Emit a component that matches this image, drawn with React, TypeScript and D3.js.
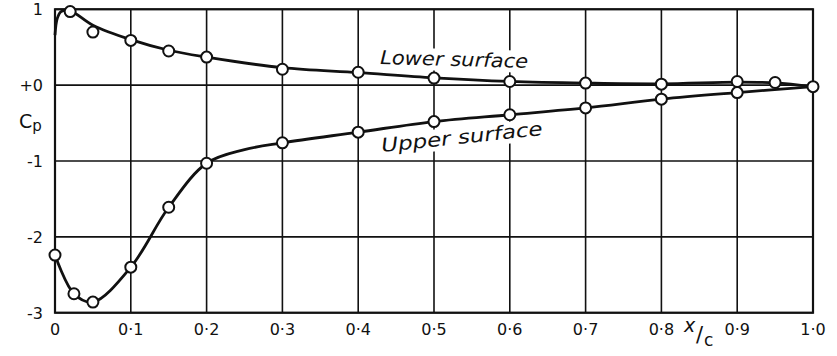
import React, { useRef, useEffect } from 'react'
import * as d3 from 'd3'

// axis ticks
const xTicks = [0, 0.1, 0.2, 0.3, 0.4, 0.5, 0.6, 0.7, 0.8, 0.9, 1.0]
const xTickLabels = ['0', '0·1', '0·2', '0·3', '0·4', '0·5', '0·6', '0·7', '0·8', '0·9', '1·0']
const yTicks = [1, 0, -1, -2, -3]
const yTickLabels = ['1', '+0', '-1', '-2', '-3']

// measured points (circles)
const lowerX = [0.02, 0.05, 0.1, 0.15, 0.2, 0.3, 0.4, 0.5, 0.6, 0.7, 0.8, 0.9, 0.95, 1.0]
const lowerCp = [0.97, 0.7, 0.59, 0.45, 0.37, 0.21, 0.17, 0.093, 0.048, 0.027, 0.013, 0.048, 0.035, -0.02]
const upperX = [0, 0.025, 0.05, 0.1, 0.15, 0.2, 0.3, 0.4, 0.5, 0.6, 0.7, 0.8, 0.9]
const upperCp = [-2.24, -2.75, -2.86, -2.4, -1.61, -1.03, -0.76, -0.62, -0.48, -0.39, -0.3, -0.185, -0.098]

// faired curves as drawn through the points
const lowerCurveX = [0, 0.003, 0.008, 0.02, 0.05, 0.1, 0.15, 0.2, 0.3, 0.4, 0.5, 0.6, 0.7, 0.8, 0.9, 0.95, 1.0]
const lowerCurveCp = [0.66, 0.88, 0.97, 0.98, 0.79, 0.6, 0.46, 0.37, 0.23, 0.165, 0.097, 0.05, 0.027, 0.017, 0.04, 0.03, -0.02]
const upperCurveX = [0, 0.025, 0.05, 0.1, 0.15, 0.2, 0.25, 0.3, 0.4, 0.5, 0.6, 0.7, 0.8, 0.9, 1.0]
const upperCurveCp = [-2.24, -2.75, -2.86, -2.4, -1.61, -1.03, -0.85, -0.76, -0.62, -0.48, -0.39, -0.3, -0.185, -0.098, -0.02]

const ink = '#111'
const font = '"DejaVu Sans", sans-serif'

export default function App() {
  const ref = useRef<HTMLDivElement>(null)

  useEffect(() => {
    const el = ref.current
    if (!el) return
    const width = 837
    const height = 356

    const svg = d3.select(el).html('').append('svg')
      .attr('width', width).attr('height', height)
      .style('display', 'block').style('background', '#fff')

    const x = d3.scaleLinear().domain([0, 1]).range([55, 813])
    const y = d3.scaleLinear().domain([-3, 1]).range([312.7, 9.3])

    // grid
    const grid = svg.append('g').attr('stroke', ink).attr('stroke-width', 1.6)
    grid.selectAll('line.v').data(xTicks).join('line')
      .attr('x1', d => x(d)).attr('x2', d => x(d))
      .attr('y1', y(1)).attr('y2', y(-3))
    grid.selectAll('line.h').data(yTicks).join('line')
      .attr('class', 'h')
      .attr('x1', x(0)).attr('x2', x(1))
      .attr('y1', d => y(d)).attr('y2', d => y(d))
    svg.append('rect')
      .attr('x', x(0)).attr('y', y(1))
      .attr('width', x(1) - x(0)).attr('height', y(-3) - y(1))
      .attr('fill', 'none').attr('stroke', ink).attr('stroke-width', 2.2)

    // tick labels
    svg.append('g').selectAll('text').data(xTicks).join('text')
      .attr('x', d => x(d)).attr('y', 335)
      .attr('text-anchor', 'middle')
      .attr('font-family', font).attr('font-size', 16).attr('fill', ink)
      .text((d, i) => xTickLabels[i])
    svg.append('g').selectAll('text').data(yTicks).join('text')
      .attr('x', 43).attr('y', d => y(d) + 6)
      .attr('text-anchor', 'end')
      .attr('font-family', font).attr('font-size', 16).attr('fill', ink)
      .text((d, i) => yTickLabels[i])

    // axis titles
    const cp = svg.append('text').attr('x', 19).attr('y', 128)
      .attr('font-family', font).attr('font-size', 19).attr('fill', ink)
    cp.append('tspan').text('C')
    cp.append('tspan').attr('font-size', 15).attr('dy', 3).text('p')

    svg.append('text').attr('x', 684).attr('y', 332)
      .attr('font-family', font).attr('font-size', 19).attr('font-style', 'italic').attr('fill', ink)
      .text('x')
    svg.append('text').attr('x', 696).attr('y', 342)
      .attr('font-family', font).attr('font-size', 21).attr('fill', ink)
      .text('/')
    svg.append('text').attr('x', 704).attr('y', 346)
      .attr('font-family', font).attr('font-size', 17).attr('fill', ink)
      .text('c')

    // curve labels, with paper showing through the grid behind them
    const labels = [
      { text: 'Lower surface', x: 380, y: 64, len: 148, rot: 1.5 },
      { text: 'Upper surface', x: 382, y: 152, len: 162, rot: -6 },
    ]
    labels.forEach(l => {
      const g = svg.append('g').attr('transform', `translate(${l.x},${l.y}) rotate(${l.rot})`)
      g.append('rect').attr('x', -3).attr('y', -17).attr('width', l.len + 6).attr('height', 22).attr('fill', '#fff')
      g.append('text')
        .attr('font-family', font).attr('font-size', 19).attr('font-style', 'italic').attr('fill', ink)
        .attr('textLength', l.len).attr('lengthAdjust', 'spacingAndGlyphs')
        .text(l.text)
    })

    // faired curves
    const line = d3.line<number>().curve(d3.curveCatmullRom.alpha(0.5))
    svg.append('path')
      .attr('d', line.x(d => x(lowerCurveX[d])).y(d => y(lowerCurveCp[d]))(d3.range(lowerCurveX.length)))
      .attr('fill', 'none').attr('stroke', ink).attr('stroke-width', 2.8)
    svg.append('path')
      .attr('d', line.x(d => x(upperCurveX[d])).y(d => y(upperCurveCp[d]))(d3.range(upperCurveX.length)))
      .attr('fill', 'none').attr('stroke', ink).attr('stroke-width', 2.8)

    // measured points
    const pts = [
      ...lowerX.map((v, i) => [v, lowerCp[i]]),
      ...upperX.map((v, i) => [v, upperCp[i]]),
    ]
    svg.append('g').selectAll('circle').data(pts).join('circle')
      .attr('cx', d => x(d[0])).attr('cy', d => y(d[1])).attr('r', 5.5)
      .attr('fill', '#fff').attr('stroke', ink).attr('stroke-width', 2)
  }, [])

  return <div ref={ref} style={{ position: 'absolute', left: 0, top: 0 }} />
}
